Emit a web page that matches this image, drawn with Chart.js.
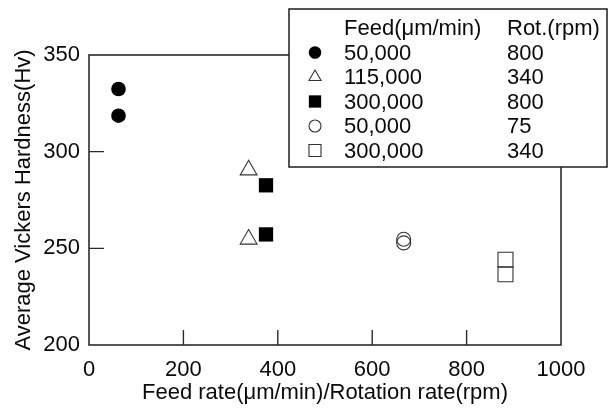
<!DOCTYPE html>
<html>
<head>
<meta charset="utf-8">
<script src="https://cdn.jsdelivr.net/npm/chart.js@4"></script>
<style>
html,body{margin:0;padding:0;background:#fff;}
#wrap{width:611px;height:408px;}
</style>
</head>
<body>
<div id="wrap"><canvas id="c" width="611" height="408"></canvas></div>
<script>
// ---- data ----
const feedLabels = ["50,000", "115,000", "300,000", "50,000", "300,000"];
const rotLabels = ["800", "340", "800", "75", "340"];
const xValues = [62.5, 338.2, 375, 666.7, 882.4];
const s1 = [332.4, 318.6];
const s2 = [290.5, 254.7];
const s3 = [282.6, 257.2];
const s4 = [254.7, 252.8];
const s5 = [244.1, 236.6];
const xTicks = [0, 200, 400, 600, 800, 1000];
const yTicks = [200, 250, 300, 350];
const xTitle = "Feed rate(\u03bcm/min)/Rotation rate(rpm)";
const yTitle = "Average Vickers Hardness(Hv)";
const legendHeader = ["Feed(\u03bcm/min)", "Rot.(rpm)"];

const FONT = "'Liberation Sans', Arial, sans-serif";
const FS = 22;
const INK = '#2b2b2b';
const TXT = '#0a0a0a';

const seriesValues = [s1, s2, s3, s4, s5];
const styles = [
  {pointStyle: 'circle', radius: 7.3, fill: '#000', stroke: '#000', bw: 0, lr: 6.3},
  {pointStyle: 'triangle', radius: 9.7, fill: '#fff', stroke: '#333', bw: 1.1, lr: 7},
  {pointStyle: 'rect', radius: 10.1, fill: '#000', stroke: '#000', bw: 0, lr: 8.7},
  {pointStyle: 'circle', radius: 7, fill: 'rgba(255,255,255,0)', stroke: '#333', bw: 1.1, lr: 6},
  {pointStyle: 'rect', radius: 10.6, fill: 'rgba(255,255,255,0)', stroke: '#333', bw: 1.1, lr: 8.5}
];

const datasets = seriesValues.map((vals, i) => ({
  label: feedLabels[i] + ' ' + rotLabels[i],
  data: vals.map(v => ({x: xValues[i], y: v})),
  pointStyle: styles[i].pointStyle,
  pointRadius: styles[i].radius,
  pointHoverRadius: styles[i].radius,
  backgroundColor: styles[i].fill,
  borderColor: styles[i].stroke,
  borderWidth: styles[i].bw,
  showLine: false
}));

const framePlugin = {
  id: 'frame',
  afterDatasetsDraw(chart) {
    const {ctx, chartArea: a, scales: {x, y}} = chart;
    ctx.save();
    ctx.strokeStyle = INK;
    ctx.lineWidth = 1.6;
    ctx.strokeRect(a.left, a.top, a.right - a.left, a.bottom - a.top);
    ctx.lineWidth = 1.4;
    ctx.beginPath();
    xTicks.forEach(t => {
      if (t === x.min || t === x.max) return;
      const px = x.getPixelForValue(t);
      ctx.moveTo(px, a.bottom);
      ctx.lineTo(px, a.bottom - 15);
    });
    yTicks.forEach(t => {
      if (t === y.min || t === y.max) return;
      const py = y.getPixelForValue(t);
      ctx.moveTo(a.left, py);
      ctx.lineTo(a.left + 15, py);
    });
    ctx.stroke();
    ctx.restore();
  },
  afterDraw(chart) {
    const {ctx} = chart;
    const box = {l: 289, t: 9, r: 607, b: 167};
    ctx.save();
    ctx.fillStyle = '#fff';
    ctx.fillRect(box.l, box.t, box.r - box.l, box.b - box.t);
    ctx.strokeStyle = INK;
    ctx.lineWidth = 1.6;
    ctx.strokeRect(box.l, box.t, box.r - box.l, box.b - box.t);
    ctx.font = FS + 'px ' + FONT;
    ctx.textBaseline = 'alphabetic';
    ctx.textAlign = 'left';
    const col1 = 344, col2 = 507, mx = 315;
    const base0 = 35, step = 24.5;
    ctx.fillStyle = TXT;
    ctx.fillText(legendHeader[0], col1, base0);
    ctx.fillText(legendHeader[1], col2, base0);
    for (let i = 0; i < feedLabels.length; i++) {
      const bl = base0 + step * (i + 1);
      ctx.fillStyle = TXT;
      ctx.fillText(feedLabels[i], col1, bl);
      ctx.fillText(rotLabels[i], col2, bl);
      const st = styles[i];
      ctx.fillStyle = st.fill;
      ctx.strokeStyle = st.stroke;
      ctx.lineWidth = st.bw || 0.001;
      Chart.helpers.drawPoint(ctx, {pointStyle: st.pointStyle, radius: st.lr, borderWidth: st.bw, rotation: 0}, mx, bl - 7);
    }
    ctx.restore();
  }
};

new Chart(document.getElementById('c'), {
  type: 'scatter',
  data: {datasets},
  options: {
    responsive: false,
    animation: false,
    devicePixelRatio: 1,
    layout: {padding: {left: 0, right: 50, top: 55, bottom: 0}},
    plugins: {legend: {display: false}, tooltip: {enabled: false}},
    scales: {
      x: {
        type: 'linear', min: 0, max: 1000,
        afterBuildTicks(s) { s.ticks = xTicks.map(v => ({value: v})); },
        afterFit(s) { s.height = 63; },
        grid: {display: false, drawTicks: false},
        border: {display: false},
        ticks: {color: TXT, font: {family: FONT, size: FS}, padding: 12, maxRotation: 0, callback: v => String(v)},
        title: {display: true, text: xTitle, color: TXT, font: {family: FONT, size: FS}, padding: {top: 0, bottom: 2}}
      },
      y: {
        type: 'linear', min: 200, max: 350,
        afterBuildTicks(s) { s.ticks = yTicks.map(v => ({value: v})); },
        afterFit(s) { s.width = 89; },
        grid: {display: false, drawTicks: false},
        border: {display: false},
        ticks: {color: TXT, font: {family: FONT, size: FS}, padding: 9, callback: v => String(v)},
        title: {display: true, text: yTitle, color: TXT, font: {family: FONT, size: FS}, padding: {top: 11, bottom: 0}}
      }
    }
  },
  plugins: [framePlugin]
});
</script>
</body>
</html>
